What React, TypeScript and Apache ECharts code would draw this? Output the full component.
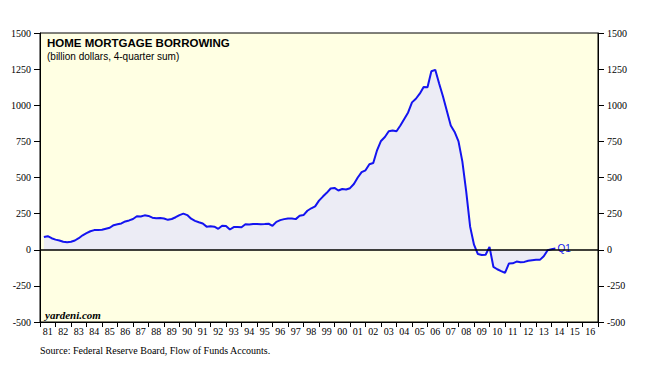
import React, { useEffect, useRef } from "react";
import * as echarts from "echarts";

const START_YEAR = 1981;
const yearLabels = ["81","82","83","84","85","86","87","88","89","90","91","92","93","94","95","96","97","98","99","00","01","02","03","04","05","06","07","08","09","10","11","12","13","14","15","16"];
const yTicks = [-500, -250, 0, 250, 500, 750, 1000, 1250, 1500];

// Quarterly values, billion dollars (4-quarter sum), 1981Q1 .. 2014Q1
const v1980s = [
  88, 94, 80, 70,
  64, 55, 52, 55,
  64, 80, 100, 115,
  128, 136, 137, 138,
  145, 152, 170, 176,
  182, 196, 203, 213,
  232, 230, 238, 234,
  222, 218, 220, 216,
  207, 213, 225, 240,
];
const v1990s = [
  250, 240, 215, 200,
  190, 182, 160, 162,
  160, 145, 166, 164,
  140, 157, 157, 156,
  176, 174, 178, 178,
  177, 178, 180, 166,
  193, 205, 212, 217,
  216, 212, 235, 240,
  270, 287, 300, 340,
  368, 394, 424, 428,
];
const v2000s = [
  410, 420, 417, 426,
  455, 500, 537, 550,
  592, 600, 690, 753,
  780, 820, 825, 820,
  860, 905, 950, 1020,
  1045, 1080, 1126, 1125,
  1235, 1245, 1150, 1060,
  960, 860, 815, 750,
  610, 400, 160, 35,
  -30, -36, -35, 20,
];
const v2010s = [
  -118, -135, -148, -160,
  -96, -94, -82, -86,
  -84, -76, -72, -70,
  -70, -45, -3, 3,
  8,
];
const values = [...v1980s, ...v1990s, ...v2000s, ...v2010s];
const endLabelText = "Q1";

export default function App() {
  const ref = useRef<HTMLDivElement>(null);
  useEffect(() => {
    if (!ref.current) return;
    const chart = echarts.init(ref.current, null, { renderer: "svg" });
    const seriesData = values.map((v, i) => [START_YEAR + (i + 1) / 4, v]);
    const serif = "'Liberation Serif', 'Times New Roman', serif";
    const sans = "'Liberation Sans', Arial, sans-serif";
    const yAxisCommon = {
      type: "value",
      min: yTicks[0],
      max: yTicks[yTicks.length - 1],
      interval: 250,
      axisLine: { show: true, lineStyle: { color: "#000", width: 1 } },
      axisTick: { show: true, length: 6, inside: false, lineStyle: { color: "#000" } },
      splitLine: { show: false },
      axisLabel: {
        color: "#000",
        fontFamily: serif,
        fontSize: 10,
        margin: 9,
        formatter: (v: number) => String(v),
      },
    };
    chart.setOption({
      animation: false,
      backgroundColor: "#fff",
      grid: {
        left: 40,
        right: 49,
        top: 33,
        bottom: 52,
        show: true,
        backgroundColor: "#FFFFE3",
        borderColor: "#000",
        borderWidth: 1,
      },
      title: [
        {
          text: "HOME MORTGAGE BORROWING",
          left: 42,
          top: 32,
          padding: 5,
          textStyle: { fontFamily: sans, fontSize: 11.5, fontWeight: "bold", color: "#000" },
        },
        {
          text: "(billion dollars, 4-quarter sum)",
          left: 42,
          top: 46,
          padding: 5,
          textStyle: { fontFamily: sans, fontSize: 10, fontWeight: "normal", color: "#000" },
        },
        {
          text: "yardeni.com",
          left: 40,
          top: 304,
          textStyle: { fontFamily: serif, fontSize: 11, fontWeight: "bold", fontStyle: "italic", color: "#000" },
        },
        {
          text: "Source: Federal Reserve Board, Flow of Funds Accounts.",
          left: 35,
          top: 340,
          textStyle: { fontFamily: serif, fontSize: 10, fontWeight: "normal", color: "#000" },
        },
      ],
      xAxis: [
        {
          type: "value",
          min: START_YEAR,
          max: START_YEAR + yearLabels.length,
          interval: 1,
          position: "bottom",
          axisLine: { show: true, onZero: false, lineStyle: { color: "#000" } },
          axisTick: { show: true, length: 5, lineStyle: { color: "#000" } },
          axisLabel: { show: false },
          splitLine: { show: false },
        },
        {
          type: "category",
          data: yearLabels,
          position: "bottom",
          boundaryGap: true,
          axisLine: { show: false },
          axisTick: { show: false },
          splitLine: { show: false },
          axisLabel: { interval: 0, color: "#000", fontFamily: serif, fontSize: 10, margin: 4 },
        },
      ],
      yAxis: [
        { ...yAxisCommon, position: "left" },
        { ...yAxisCommon, position: "right" },
      ],
      series: [
        {
          type: "line",
          xAxisIndex: 0,
          yAxisIndex: 0,
          data: seriesData,
          symbol: "none",
          lineStyle: { color: "#1414F0", width: 2 },
          areaStyle: { color: "#ECECF5", opacity: 1 },
          endLabel: {
            show: true,
            formatter: endLabelText,
            color: "#1414F0",
            fontFamily: sans,
            fontSize: 10,
            distance: 2,
          },
          markLine: {
            silent: true,
            symbol: "none",
            label: { show: false },
            lineStyle: { color: "#000", width: 1.5, type: "solid" },
            data: [{ yAxis: 0 }],
          },
          z: 3,
        },
      ],
    });
    return () => chart.dispose();
  }, []);
  return (
    <div
      ref={ref}
      style={{ position: "fixed", left: 0, top: 0, width: 647, height: 374 }}
    />
  );
}
